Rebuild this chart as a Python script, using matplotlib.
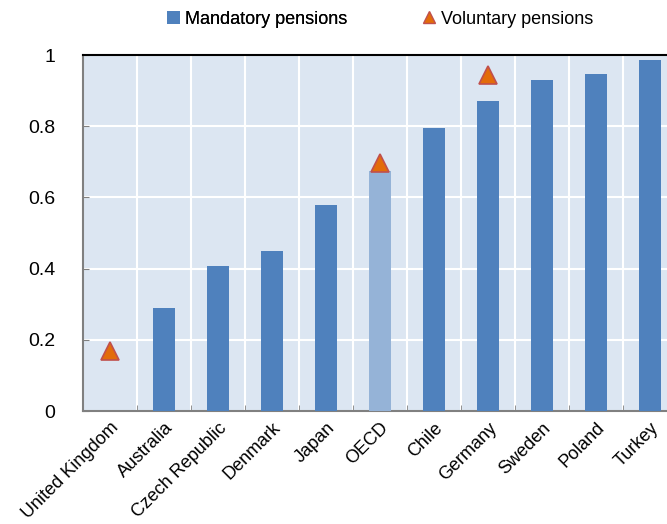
import numpy as np
import matplotlib.pyplot as plt
from matplotlib.lines import Line2D
from matplotlib.patches import Patch

countries = ["United Kingdom", "Australia", "Czech Republic", "Denmark", "Japan",
             "OECD", "Chile", "Germany", "Sweden", "Poland", "Turkey"]
mandatory = [0.0, 0.29, 0.408, 0.449, 0.578, 0.674, 0.795, 0.872, 0.931, 0.948, 0.986]
voluntary = [0.169, np.nan, np.nan, np.nan, np.nan, 0.697, np.nan, 0.944, np.nan, np.nan, np.nan]

plt.rcParams['font.family'] = ['Liberation Sans', 'DejaVu Sans']

fig = plt.figure(figsize=(6.67, 5.24), dpi=100)
ax = fig.add_axes([83 / 667, 113 / 524, 594 / 667, 356 / 524])
ax.set_facecolor('#DCE6F2')

x = np.arange(len(countries))
colors = ['#95B3D7' if c == 'OECD' else '#4F81BD' for c in countries]
ax.bar(x, mandatory, width=0.41, color=colors, zorder=3)
ax.plot(x, voluntary, linestyle='none', marker='^', markersize=13,
        markerfacecolor='#E36C09', markeredgecolor='#C0504D', markeredgewidth=1.2, zorder=4)

ax.set_xlim(-0.5, len(countries) - 0.5)
ax.set_ylim(0, 1)
ax.set_yticks([0, 0.2, 0.4, 0.6, 0.8, 1])
ax.set_yticklabels(['0', '0.2', '0.4', '0.6', '0.8', '1'], fontsize=14)
ax.set_xticks(x)
ax.set_xticklabels(countries, rotation=45, ha='right', va='top', fontsize=13,
                   rotation_mode='anchor')
ax.tick_params(axis='x', length=0, pad=6)
ax.set_xticks(np.arange(len(countries) + 1) - 0.5, minor=True)
ax.tick_params(axis='x', which='minor', direction='in', length=4, color='#808080')
ax.tick_params(axis='y', direction='in', length=4, color='#808080', pad=20)

ax.grid(True, which='major', axis='y', color='white', linewidth=1.5, zorder=1)
ax.grid(True, which='minor', axis='x', color='white', linewidth=1.5, zorder=1)
ax.set_axisbelow(True)

for side in ['left', 'bottom']:
    ax.spines[side].set_color('#808080')
    ax.spines[side].set_linewidth(1.5)
ax.spines['top'].set_color('black')
ax.spines['top'].set_linewidth(1.5)
ax.spines['right'].set_visible(False)

h1 = [Patch(facecolor='#4F81BD', label='Mandatory pensions')]
h2 = [Line2D([], [], linestyle='none', marker='^', markersize=9,
             markerfacecolor='#E36C09', markeredgecolor='#C0504D',
             label='Voluntary pensions')]
leg1 = fig.legend(handles=h1, loc='center left', bbox_to_anchor=(167 / 667, 1 - 19 / 524),
                  frameon=False, fontsize=13, handlelength=0.7, handletextpad=0.3,
                  borderpad=0, borderaxespad=0)
fig.add_artist(leg1)
fig.legend(handles=h2, loc='center left', bbox_to_anchor=(423 / 667, 1 - 19 / 524),
           frameon=False, fontsize=13, handlelength=0.7, handletextpad=0.3,
           borderpad=0, borderaxespad=0)

fig.savefig('out.png', dpi=100)
